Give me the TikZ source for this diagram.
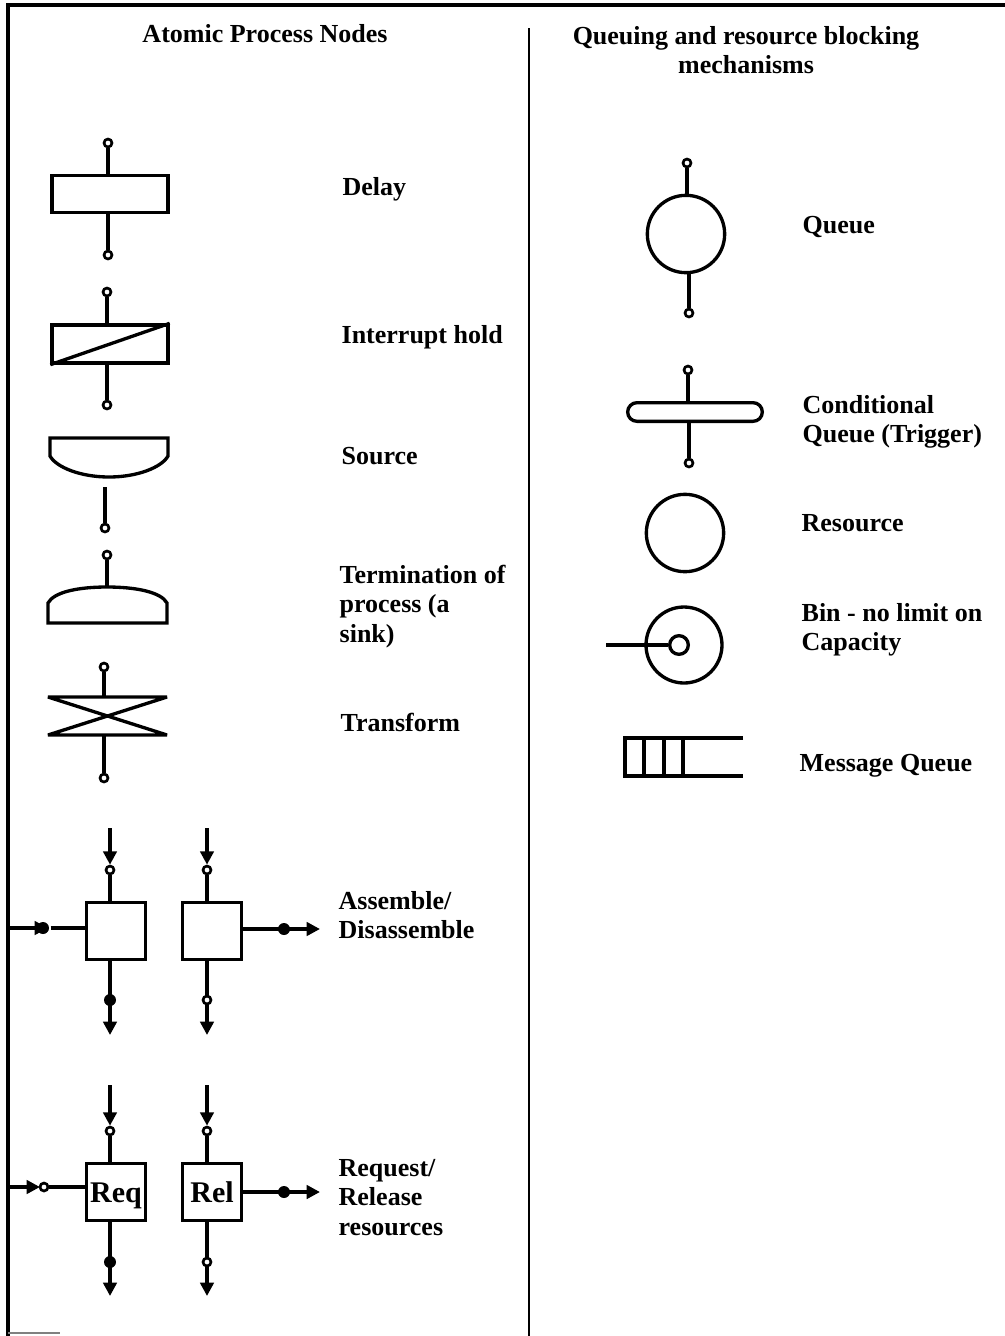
\documentclass[tikz,border=0pt]{standalone}
\usepackage{fontspec}
\setmainfont{Liberation Serif}
\usetikzlibrary{arrows.meta}
\newcommand\mylines[1]{\vtop{\halign{##\hfil\cr#1\crcr}}}
\begin{document}
\begin{tikzpicture}[x=0.75pt,y=-0.75pt,line width=2.5pt,
  port/.style={circle,draw,fill=white,inner sep=0pt,minimum size=6pt,line width=2pt},
  dot/.style={circle,fill=black,inner sep=0pt,minimum size=9pt},
  lbl/.style={anchor=base west,inner sep=0pt,font=\fontsize{19.5}{22.2}\selectfont\bfseries},
  ttl/.style={anchor=base,inner sep=0pt,align=center,font=\fontsize{19.5}{22}\selectfont\bfseries},
  boxx/.style={draw,rectangle,inner sep=0pt,line width=2.5pt},
  ring/.style={draw,circle,inner sep=0pt,line width=2.5pt},
  tip/.style={-{Triangle[length=10pt,width=10pt]}},
  big/.style={font=\fontsize{22.5}{24}\selectfont\bfseries,text height=17pt,text depth=2pt}
]
\useasboundingbox (0,0) rectangle (1005,1336);
% frame
\draw[line width=2.6pt] (8,1336) -- (8,5) -- (1005,5);
\draw[line width=2pt] (529,28) -- (529,1336);
\draw[line width=1.2pt,gray] (8,1333) -- (60,1333);
\coordinate (fa) at (8,928);
\coordinate (fb) at (8,1187);
% titles
\node[ttl] (t1) at (265,42) {Atomic Process Nodes};
\node[ttl] (t2) at (746,44) {Queuing and resource blocking};
\node[ttl] (t3) at (746,73) {mechanisms};

% Delay
\node[boxx,minimum width=87pt,minimum height=28pt] (delay) at (110,194) {};
\node[port] (d1) at (108,143) {};
\node[port] (d2) at (108,255) {};
\draw (d1) -- (d1 |- delay.north);
\draw (d2 |- delay.south) -- (d2);
\node[lbl] (ldelay) at (341,195) {Delay};

% Interrupt hold
\node[boxx,minimum width=87pt,minimum height=28.5pt] (ih) at (110,344) {};
\draw (ih.south west) -- (ih.north east);
\node[port] (i1) at (107,292) {};
\node[port] (i2) at (107,405) {};
\draw (i1) -- (i1 |- ih.north);
\draw (i2 |- ih.south) -- (i2);
\node[lbl] (lih) at (340,343) {Interrupt hold};

% Source
\draw[line width=2.5pt] (50,438) -- (168,438) -- (168,456)
  .. controls (162,467) and (138,477) .. (109,477)
  .. controls (80,477) and (56,467) .. (50,456) -- cycle;
\coordinate (s0) at (105,487);
\node[port] (s1) at (105,528) {};
\draw (s0) -- (s1);
\node[lbl] (lsrc) at (340,464) {Source};

% Termination
\draw[line width=2.5pt] (48,623) -- (48,603)
  .. controls (54,592) and (78,587) .. (107,587)
  .. controls (136,587) and (161,592) .. (167,603) -- (167,623) -- cycle;
\coordinate (tm0) at (107,587);
\node[port] (tm1) at (107,555) {};
\draw (tm1) -- (tm0);
\node[lbl] (lterm) at (338,583) {\mylines{Termination of\cr process (a\cr sink)}};

% Transform
\draw[line width=2.5pt,line join=bevel] (48,697) -- (167,697) -- (48,735) -- (167,735) -- cycle;
\coordinate (tf0) at (104,697);
\coordinate (tf3) at (104,735);
\node[port] (tf1) at (104,667) {};
\node[port] (tf2) at (104,778) {};
\draw (tf1) -- (tf0);
\draw (tf3) -- (tf2);
\node[lbl] (ltf) at (339,731) {Transform};

% Assemble / Disassemble
\node[boxx,minimum width=44pt,minimum height=43pt] (asm) at (116,931) {};
\node[boxx,minimum width=44pt,minimum height=43pt] (dis) at (212,931) {};
\coordinate (a0) at (110,828);
\node[port] (a1) at (110,870) {};
\draw[tip] (a0) -- (a1.north);
\draw (a1) -- (a1 |- asm.north);
\coordinate (a3) at (110,1035);
\draw[tip] (a1 |- asm.south) -- (a3);
\node[dot] (a2) at (110,1000) {};
\draw[tip] (fa) -- (48,928);
\node[dot] (ain) at (43,928) {};
\draw (ain) -- (ain -| asm.west);

\coordinate (b0) at (207,828);
\node[port] (b1) at (207,870) {};
\draw[tip] (b0) -- (b1.north);
\draw (b1) -- (b1 |- dis.north);
\coordinate (b3) at (207,1035);
\draw[tip] (b1 |- dis.south) -- (b3);
\node[port] (b2) at (207,1000) {};
\coordinate (bout) at (320,929);
\draw[tip] (dis.east |- bout) -- (bout);
\node[dot] (bdot) at (284,929) {};
\node[lbl] (lasm) at (337,909) {\mylines{Assemble/\cr Disassemble}};

% Request / Release
\node[boxx,minimum width=44pt,minimum height=43pt,big] (req) at (116,1192) {Req};
\node[boxx,minimum width=44pt,minimum height=43pt,big] (rel) at (212,1192) {Rel};
\coordinate (r0) at (110,1085);
\node[port] (r1) at (110,1131) {};
\draw[tip] (r0) -- (r1.north);
\draw (r1) -- (r1 |- req.north);
\coordinate (r3) at (110,1296);
\draw[tip] (r1 |- req.south) -- (r3);
\node[dot] (r2) at (110,1262) {};
\draw[tip] (fb) -- (40,1187);
\node[port] (rin) at (44,1187) {};
\draw (rin) -- (rin -| req.west);

\coordinate (e0) at (207,1085);
\node[port] (e1) at (207,1131) {};
\draw[tip] (e0) -- (e1.north);
\draw (e1) -- (e1 |- rel.north);
\coordinate (e3) at (207,1296);
\draw[tip] (e1 |- rel.south) -- (e3);
\node[port] (e2) at (207,1262) {};
\coordinate (eout) at (320,1192);
\draw[tip] (rel.east |- eout) -- (eout);
\node[dot] (edot) at (284,1192) {};
\node[lbl] (lreq) at (337,1176) {\mylines{Request/\cr Release\cr resources}};

% Queue
\node[ring,minimum size=58pt] (q) at (686,234) {};
\node[port] (q1) at (687,163) {};
\node[port] (q2) at (689,313) {};
\draw (q1) -- (q1 |- q.north);
\draw (q2 |- q.south) -- (q2);
\node[lbl] (lq) at (801,233) {Queue};

% Conditional queue
\node[draw,rectangle,rounded corners=7pt,inner sep=0pt,line width=2.5pt,minimum width=101pt,minimum height=14pt] (cq) at (695,412) {};
\node[port] (c1) at (688,370) {};
\node[port] (c2) at (689,463) {};
\draw (c1) -- (c1 |- cq.north);
\draw (c2 |- cq.south) -- (c2);
\node[lbl] (lcq) at (801,413) {\mylines{Conditional\cr Queue (Trigger)}};

% Resource
\node[ring,minimum size=58pt] (res) at (685,533) {};
\node[lbl] (lres) at (800,531) {Resource};

% Bin
\node[ring,minimum size=57pt] (bin) at (684,645) {};
\node[ring,minimum size=14pt] (binin) at (679,645) {};
\coordinate (bin0) at (606,645);
\draw (bin0) -- (binin.west);
\node[lbl] (lbin) at (800,621) {\mylines{Bin - no limit on\cr Capacity}};

% Message queue
\draw[line width=2.5pt] (743,738) -- (625,738) -- (625,776) -- (743,776);
\draw[line width=2.5pt] (644,738) -- (644,776) (664,738) -- (664,776) (683,738) -- (683,776);
\node[lbl] (lmq) at (798,771) {Message Queue};
\end{tikzpicture}
\end{document}
